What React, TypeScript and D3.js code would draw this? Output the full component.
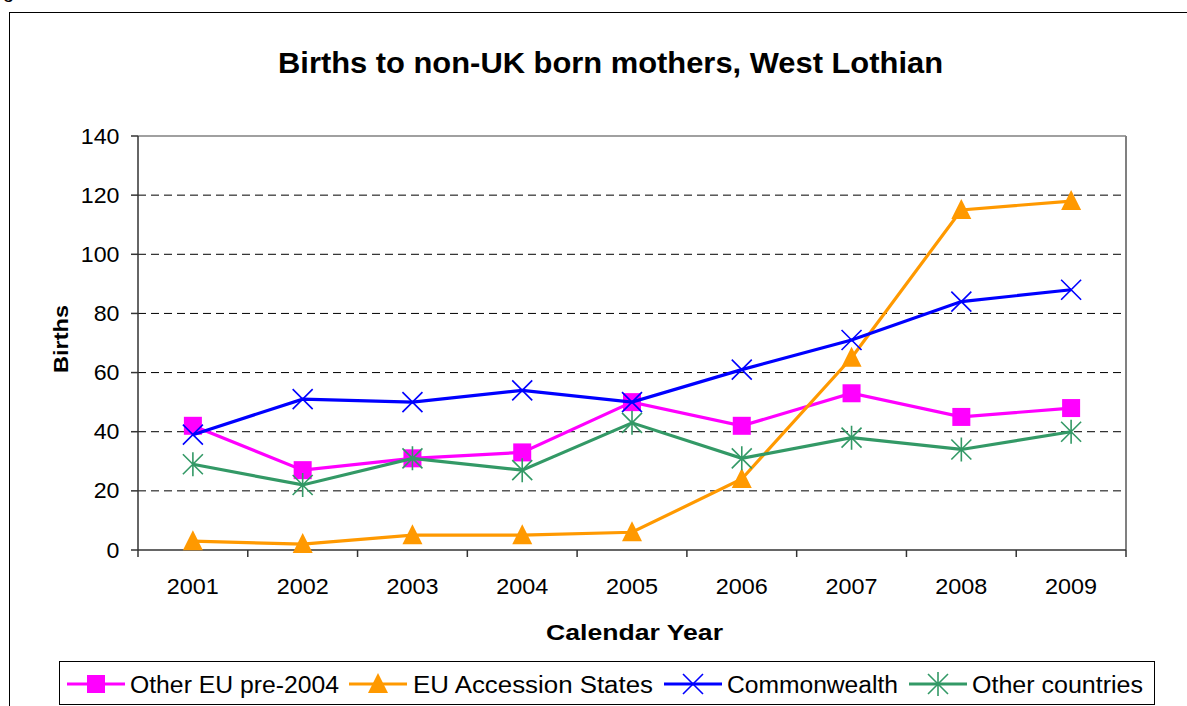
import React from "react";
import * as d3 from "d3";

const years = ["2001", "2002", "2003", "2004", "2005", "2006", "2007", "2008", "2009"];
const otherEU = [42, 27, 31, 33, 50, 42, 53, 45, 48];
const accession = [3, 2, 5, 5, 6, 24, 65, 115, 118];
const commonwealth = [39, 51, 50, 54, 50, 61, 71, 84, 88];
const otherCountries = [29, 22, 31, 27, 43, 31, 38, 34, 40];
const yTicks = [0, 20, 40, 60, 80, 100, 120, 140];

const series = [
  { name: "Other EU pre-2004", values: otherEU, color: "#FF00FF", marker: "square" },
  { name: "EU Accession States", values: accession, color: "#FF9900", marker: "triangle" },
  { name: "Commonwealth", values: commonwealth, color: "#0000FF", marker: "cross" },
  { name: "Other countries", values: otherCountries, color: "#339966", marker: "star" },
];

const W = 1187, H = 706;
const left = 138, right = 1126, top = 136, bottom = 550;
const font = "Liberation Sans, Arial, sans-serif";

// legend layout: line start, text start, text width
const legendPos = [
  { lx: 67, tx: 130, tw: 209 },
  { lx: 349, tx: 413, tw: 240 },
  { lx: 664, tx: 727, tw: 171 },
  { lx: 909, tx: 972, tw: 171 },
];

const Marker = ({ type, x, y, color }: { type: string; x: number; y: number; color: string }) => {
  if (type === "square") return <rect x={x - 9} y={y - 9} width={18} height={18} fill={color} />;
  if (type === "triangle") return <path d={`M${x},${y - 11}L${x + 10},${y + 9}L${x - 10},${y + 9}Z`} fill={color} />;
  if (type === "cross")
    return <path d={`M${x - 10},${y - 10}L${x + 10},${y + 10}M${x - 10},${y + 10}L${x + 10},${y - 10}`} stroke={color} strokeWidth={1.6} />;
  return (
    <path
      d={`M${x - 10},${y - 10}L${x + 10},${y + 10}M${x - 10},${y + 10}L${x + 10},${y - 10}M${x},${y - 12}L${x},${y + 12}`}
      stroke={color}
      strokeWidth={1.6}
    />
  );
};

const App = () => {
  const x = d3.scaleBand().domain(years).range([left, right]);
  const y = d3.scaleLinear().domain([0, 140]).range([bottom, top]);
  const cx = (yr: string) => x(yr)! + x.bandwidth() / 2;
  const line = d3.line<number>().x((d, i) => cx(years[i])).y((d) => y(d));

  return (
    <svg width={W} height={H} style={{ position: "absolute", left: 0, top: 0, background: "#fff" }} fontFamily={font}>
      <text x={3} y={-2} fontSize={20}>g</text>
      <rect x={9.5} y={12.5} width={1200} height={720} fill="none" stroke="#000" strokeWidth={1} />
      <text x={610.5} y={73} textAnchor="middle" fontSize={30} fontWeight="bold" textLength={665} lengthAdjust="spacingAndGlyphs">
        Births to non-UK born mothers, West Lothian
      </text>

      {yTicks.filter((t) => t > 0 && t < 140).map((t) => (
        <line key={t} x1={left} x2={right} y1={y(t)} y2={y(t)} stroke="#000" strokeDasharray="8,5" strokeWidth={1} />
      ))}
      <line x1={left} x2={right} y1={top} y2={top} stroke="#808080" strokeWidth={1.5} />
      <line x1={right} x2={right} y1={top} y2={bottom} stroke="#808080" strokeWidth={2} />
      <line x1={left} x2={left} y1={top} y2={bottom} stroke="#333" strokeWidth={1.5} />
      <line x1={left} x2={right} y1={bottom} y2={bottom} stroke="#333" strokeWidth={1.5} />

      {yTicks.map((t) => (
        <g key={t}>
          <line x1={left - 7} x2={left} y1={y(t)} y2={y(t)} stroke="#333" strokeWidth={1.5} />
          <text x={119.5} y={y(t) + 7.5} textAnchor="end" fontSize={22} textLength={String(t).length * 12.9} lengthAdjust="spacingAndGlyphs">
            {t}
          </text>
        </g>
      ))}
      {years.map((yr) => (
        <g key={yr}>
          <line x1={x(yr)!} x2={x(yr)!} y1={bottom} y2={bottom + 7} stroke="#333" strokeWidth={1.5} />
          <text x={cx(yr)} y={594} textAnchor="middle" fontSize={22} textLength={52} lengthAdjust="spacingAndGlyphs">
            {yr}
          </text>
        </g>
      ))}
      <line x1={right} x2={right} y1={bottom} y2={bottom + 7} stroke="#333" strokeWidth={1.5} />

      <text transform={`translate(68,339) rotate(-90)`} textAnchor="middle" fontSize={21} fontWeight="bold" textLength={68} lengthAdjust="spacingAndGlyphs">
        Births
      </text>
      <text x={634.5} y={640} textAnchor="middle" fontSize={22} fontWeight="bold" textLength={177} lengthAdjust="spacingAndGlyphs">
        Calendar Year
      </text>

      {series.map((s) => (
        <g key={s.name}>
          <path d={line(s.values)!} fill="none" stroke={s.color} strokeWidth={3.2} />
          {s.values.map((v, i) => (
            <Marker key={i} type={s.marker} x={cx(years[i])} y={y(v)} color={s.color} />
          ))}
        </g>
      ))}

      <rect x={59.5} y={661.5} width={1095} height={43} fill="#fff" stroke="#000" strokeWidth={1} />
      {series.map((s, i) => {
        const it = legendPos[i];
        const ly = 684;
        return (
          <g key={s.name}>
            <line x1={it.lx} x2={it.lx + 58} y1={ly} y2={ly} stroke={s.color} strokeWidth={3.2} />
            <Marker type={s.marker} x={it.lx + 29} y={ly} color={s.color} />
            <text x={it.tx} y={ly + 8.5} fontSize={23} textLength={it.tw} lengthAdjust="spacingAndGlyphs">
              {s.name}
            </text>
          </g>
        );
      })}
    </svg>
  );
};

export default App;
